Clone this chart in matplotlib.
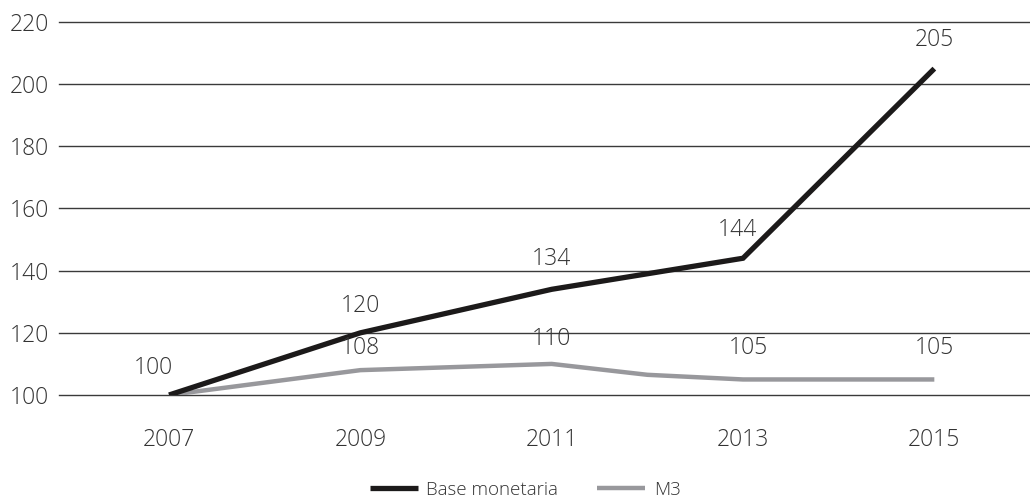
import matplotlib
matplotlib.use("Agg")
import matplotlib.pyplot as plt

years = [2007, 2008, 2009, 2010, 2011, 2012, 2013, 2014, 2015]
base_monetaria = [100, 110, 120, 127, 134, 139, 144, 174.5, 205]
m3 = [100, 104, 108, 109, 110, 106.5, 105, 105, 105]

tick_years = [2007, 2009, 2011, 2013, 2015]
y_ticks = [100, 120, 140, 160, 180, 200, 220]

# labelled years and their label offsets (points)
label_years = [2007, 2009, 2011, 2013, 2015]
base_offsets = [(-11, 11), (0, 11), (0, 13), (-4, 12), (0, 12)]
m3_offsets = [(-11, 11), (0, 7), (0, 9), (4, 14), (0, 14)]

TEXT = "#333333"
BLACK = "#1c1a1a"
GREY = "#98989c"

plt.rcParams["font.family"] = ["Open Sans", "DejaVu Sans"]
plt.rcParams["font.weight"] = "light"

fig = plt.figure(figsize=(10.3, 5.03), dpi=100)
ax = fig.add_axes([0.0573, 0.2147, 0.9427, 0.7416])

for y in y_ticks:
    ax.axhline(y, color="#3a3a3a", lw=1.0, zorder=1, clip_on=False)

ax.plot(years, base_monetaria, color=BLACK, lw=3.8, solid_capstyle="butt",
        solid_joinstyle="miter", label="Base monetaria", zorder=3)
ax.plot(years, m3, color=GREY, lw=3.2, solid_capstyle="butt",
        solid_joinstyle="miter", label="M3", zorder=2)

for yr, off in zip(label_years, base_offsets):
    if yr == 2007:
        continue
    v = base_monetaria[years.index(yr)]
    ax.annotate(f"{v:.0f}", (yr, v), xytext=off, textcoords="offset points",
                ha="center", va="bottom", fontsize=16.5, color=TEXT)
for yr, off in zip(label_years, m3_offsets):
    v = m3[years.index(yr)]
    ax.annotate(f"{v:.0f}", (yr, v), xytext=off, textcoords="offset points",
                ha="center", va="bottom", fontsize=16.5, color=TEXT)

ax.set_xlim(2005.85, 2016)
ax.set_ylim(100, 220)
ax.set_xticks(tick_years)
ax.set_yticks(y_ticks)
ax.tick_params(axis="x", length=0, pad=24, labelsize=16.5, labelcolor=TEXT)
ax.tick_params(axis="y", length=0, pad=7, labelsize=16.5, labelcolor=TEXT)
for s in ax.spines.values():
    s.set_visible(False)

fig.legend(loc="lower center", bbox_to_anchor=(0.51, -0.025), ncol=2,
           frameon=False, fontsize=13.5, handlelength=2.55, handletextpad=0.45,
           columnspacing=2.1, labelcolor=TEXT)

fig.savefig("out.png", dpi=100)
